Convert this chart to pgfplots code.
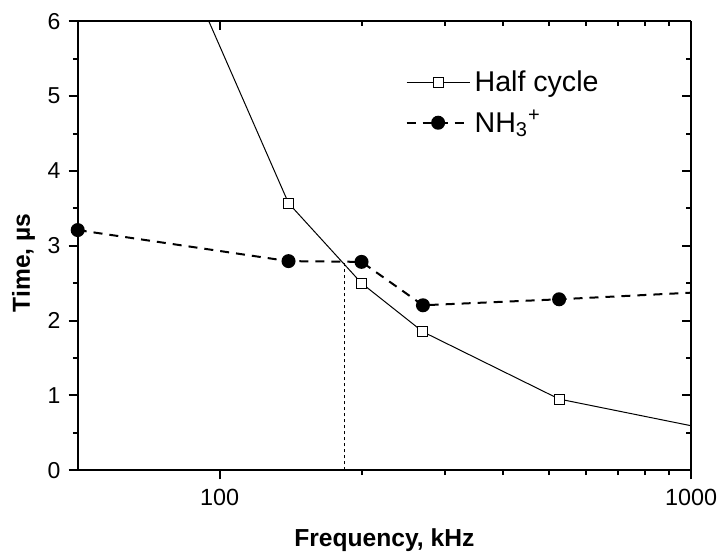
\documentclass[border=0pt]{standalone}
\usepackage{fontspec}
\setmainfont{Liberation Sans}
\usepackage{pgfplots}
\pgfplotsset{compat=1.18}
\begin{document}
\begin{tikzpicture}
\begin{axis}[
  width=306.65bp, height=224.5bp, scale only axis,
  xmode=log, xmin=50, xmax=1000, ymin=0, ymax=6,
  axis line style={line width=1bp},
  every tick/.style={line width=1bp, black},
  major tick length=4.6bp, minor tick length=2.4bp,
  xtick={100,1000}, ytick={0,1,2,3,4,5,6}, minor y tick num=1,
  axis x line*=bottom, axis y line*=left, tick align=outside,
  xticklabels={100,1000},
  yticklabels={0,1,2,3,4,5,6},
  yticklabel style={font=\fontsize{11.5bp}{13bp}\selectfont, xshift=-0.5bp},
  xticklabel style={font=\fontsize{11.7bp}{13bp}\selectfont, yshift=-1.5bp},
  xlabel={\textbf{Frequency, kHz}},
  ylabel={\textbf{Time, µs}},
  label style={font=\fontsize{12.3bp}{14bp}\selectfont},
  xlabel style={at={(axis description cs:0.5,-0.170)}, anchor=base},
  ylabel style={at={(axis description cs:-0.078,0.4617)}, anchor=base},
  clip mode=individual,
  legend style={draw=none, fill=none, at={(axis description cs:0.534,0.90)}, anchor=north west,
    font=\fontsize{14.3bp}{16bp}\selectfont,
    nodes={font=\fontsize{14.3bp}{16bp}\selectfont},
    row sep=4bp, inner sep=0pt},
  legend cell align=left,
  legend image code/.code={\draw[mark repeat=2,mark phase=2] plot coordinates {(0bp,0bp) (15.75bp,0bp) (31.5bp,0bp)};},
]
\addplot[black, line width=0.5bp, mark=square*, mark options={fill=white, solid, line width=0.5bp}, mark size=2.5bp]
  coordinates {(50,10) (140,3.57) (200,2.5) (270,1.85) (525,0.952) (1750,0.286)};
\addlegendentry{Half cycle}
\addplot[black, line width=1bp, dash pattern=on 4.5bp off 3.5bp, mark=*, mark options={fill=black, solid}, mark size=3bp]
  coordinates {(50,3.21) (140,2.795) (200,2.785) (270,2.205) (525,2.285) (1750,2.45)};
\addlegendentry{NH\textsubscript{3}\textsuperscript{+}}
\addplot[black, line width=0.5bp, dash pattern=on 1.5bp off 1.5bp, forget plot]
  coordinates {(184,0) (184,2.77)};
\coordinate (bbsw) at (rel axis cs:-0.1267,-0.1838);
\coordinate (bbne) at (rel axis cs:1.0456,1.0474);
\end{axis}
\begin{axis}[
  width=306.65bp, height=224.5bp, scale only axis,
  xmode=log, xmin=50, xmax=1000, ymin=0, ymax=6,
  axis line style={line width=1bp},
  every tick/.style={line width=1bp, black},
  major tick length=4.6bp, minor tick length=2.4bp,
  xtick={100,1000}, ytick={0,1,2,3,4,5,6}, minor y tick num=1,
  axis x line*=top, axis y line*=right, tick align=inside,
  xticklabels={}, yticklabels={}
]
\end{axis}
\pgfresetboundingbox
\useasboundingbox (bbsw) rectangle (bbne);
\end{tikzpicture}
\end{document}
